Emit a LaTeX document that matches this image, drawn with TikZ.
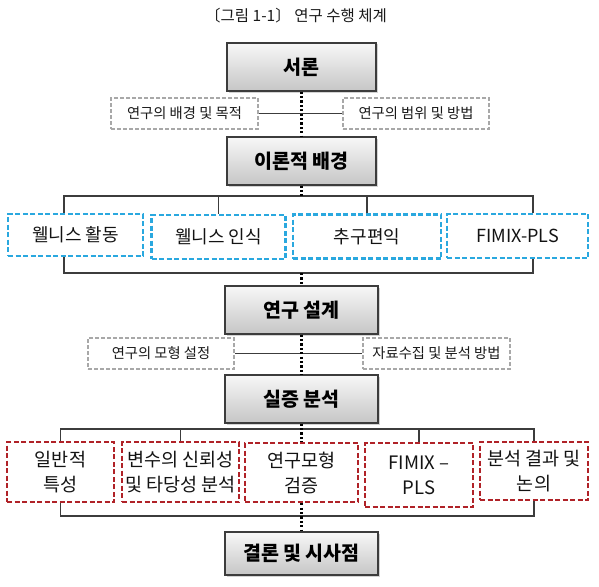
\documentclass[tikz,border=0pt]{standalone}
\usepackage{fontspec}
\usepackage{tikz}
\usetikzlibrary{shadows}
\setmainfont{Noto Sans CJK KR}
\definecolor{lineColor}{RGB}{60,60,60}
\definecolor{blueDash}{RGB}{42,168,223}
\definecolor{redDash}{RGB}{176,34,40}
\definecolor{grayDash}{RGB}{168,168,168}
\tikzstyle{diagram} = [x = 1pt, y = -1pt]
\tikzstyle{mainBox} = [draw=lineColor, line width=1.1pt, top color=gray!6, bottom color=gray!45, drop shadow={shadow xshift=1.5pt, shadow yshift=-1.5pt, opacity=.35}, minimum width=153pt, minimum height=48pt, inner sep=0pt, font=\fontsize{19.5}{22}\selectfont\bfseries]
\tikzstyle{grayBox} = [draw=grayDash, line width=1.6pt, dash pattern=on 4pt off 2pt, fill=white, minimum width=147pt, minimum height=31pt, inner sep=0pt, text=gray!20!black, font=\fontsize{14.3}{17}\selectfont]
\tikzstyle{blueBox} = [draw=blueDash, line width=2.4pt, dash pattern=on 5pt off 2.5pt, fill=white, minimum height=44pt, inner sep=0pt, text=gray!15!black, font=\fontsize{18}{21}\selectfont]
\tikzstyle{redBox} = [draw=redDash, line width=2.4pt, dash pattern=on 5pt off 2.5pt, fill=white, minimum height=60pt, inner sep=0pt, align=center, text=gray!15!black, font=\fontsize{18.5}{25}\selectfont]
\tikzstyle{busLine} = [draw=lineColor, line width=1.3pt]
\tikzstyle{dottedLine} = [draw=black, line width=2.2pt, dash pattern=on 2.2pt off 2.2pt]
\tikzstyle{titleText} = [text=gray!20!black, font=\fontsize{15.5}{18}\selectfont]

\begin{document}
\begin{tikzpicture}[diagram]
  \useasboundingbox (0,0) rectangle (599,586);
  \node [titleText] (title) at (296,16) {〔그림 1-1〕 연구 수행 체계};

  % main steps
  \node [mainBox, minimum width=149pt] (intro) at (301.5,67) {서론};
  \node [mainBox, minimum width=149pt] (theory) at (301.5,161) {이론적 배경};
  \node [mainBox] (design) at (301.5,310) {연구 설계};
  \node [mainBox] (analysis) at (301.5,399) {실증 분석};
  \node [mainBox, minimum height=43pt] (result) at (301.5,553.5) {결론 및 시사점};

  % side topics
  \node [grayBox] (background) at (184.5,113.5) {연구의 배경 및 목적};
  \node [grayBox, minimum width=146pt] (scope) at (416,113.5) {연구의 범위 및 방법};
  \node [grayBox, minimum width=146pt] (model) at (161,353.5) {연구의 모형 설정};
  \node [grayBox] (method) at (436.5,353.5) {자료수집 및 분석 방법};
  \draw [busLine] (background) -- (scope);
  \draw [busLine] (model) -- (method);

  % theory topics
  \node [blueBox, minimum width=135pt, minimum height=42pt] (activity) at (75.5,235) {웰니스 활동};
  \node [blueBox, minimum width=134pt] (perception) at (218.5,237) {웰니스 인식};
  \node [blueBox, minimum width=148pt] (benefit) at (367,236.5) {추구편익};
  \node [blueBox, minimum width=141pt] (fimix) at (517.5,236) {FIMIX-PLS};

  \coordinate (theoryLeft) at (64,196);
  \coordinate (theoryRight) at (533,196);
  \coordinate (designLeft) at (64,273);
  \coordinate (designRight) at (533,273);
  \draw [busLine] (activity.north -| theoryLeft) -- (theoryLeft) -- (theoryRight) -- (fimix.north -| theoryRight);
  \draw [busLine] (perception.north) -- (perception.north |- theoryLeft);
  \draw [busLine] (benefit.north) -- (benefit.north |- theoryLeft);
  \draw [busLine] (activity.south -| designLeft) -- (designLeft) -- (designRight) -- (fimix.south -| designRight);

  % analysis topics
  \node [redBox, minimum width=107pt] (general) at (60.5,472) {일반적\\특성};
  \node [redBox, minimum width=117pt] (reliability) at (180.5,472) {변수의 신뢰성\\및 타당성 분석};
  \node [redBox, minimum width=113pt, minimum height=59pt] (validation) at (301.5,472.5) {연구모형\\검증};
  \node [redBox, minimum width=108pt, minimum height=64pt] (fimixPls) at (419,475) {FIMIX –\\PLS};
  \node [redBox, minimum width=108pt, minimum height=58pt] (discussion) at (534,471) {분석 결과 및\\논의};

  \coordinate (analysisBus) at (301.5,429);
  \coordinate (resultBus) at (301.5,516);
  \draw [busLine] (general.north) |- (analysisBus) -| (discussion.north);
  \draw [busLine] (reliability.north) -- (reliability.north |- analysisBus);
  \draw [busLine] (fimixPls.north) -- (fimixPls.north |- analysisBus);
  \draw [busLine] (general.south) |- (resultBus) -| (discussion.south);

  % dotted main flow
  \draw [dottedLine] (intro) -- (theory);
  \draw [dottedLine] (theory.south) -- (theory.south |- theoryLeft);
  \draw [dottedLine] (design.north |- designLeft) -- (design.north);
  \draw [dottedLine] (design) -- (analysis);
  \draw [dottedLine] (analysis) -- (validation);
  \draw [dottedLine] (validation) -- (result);
\end{tikzpicture}
\end{document}
